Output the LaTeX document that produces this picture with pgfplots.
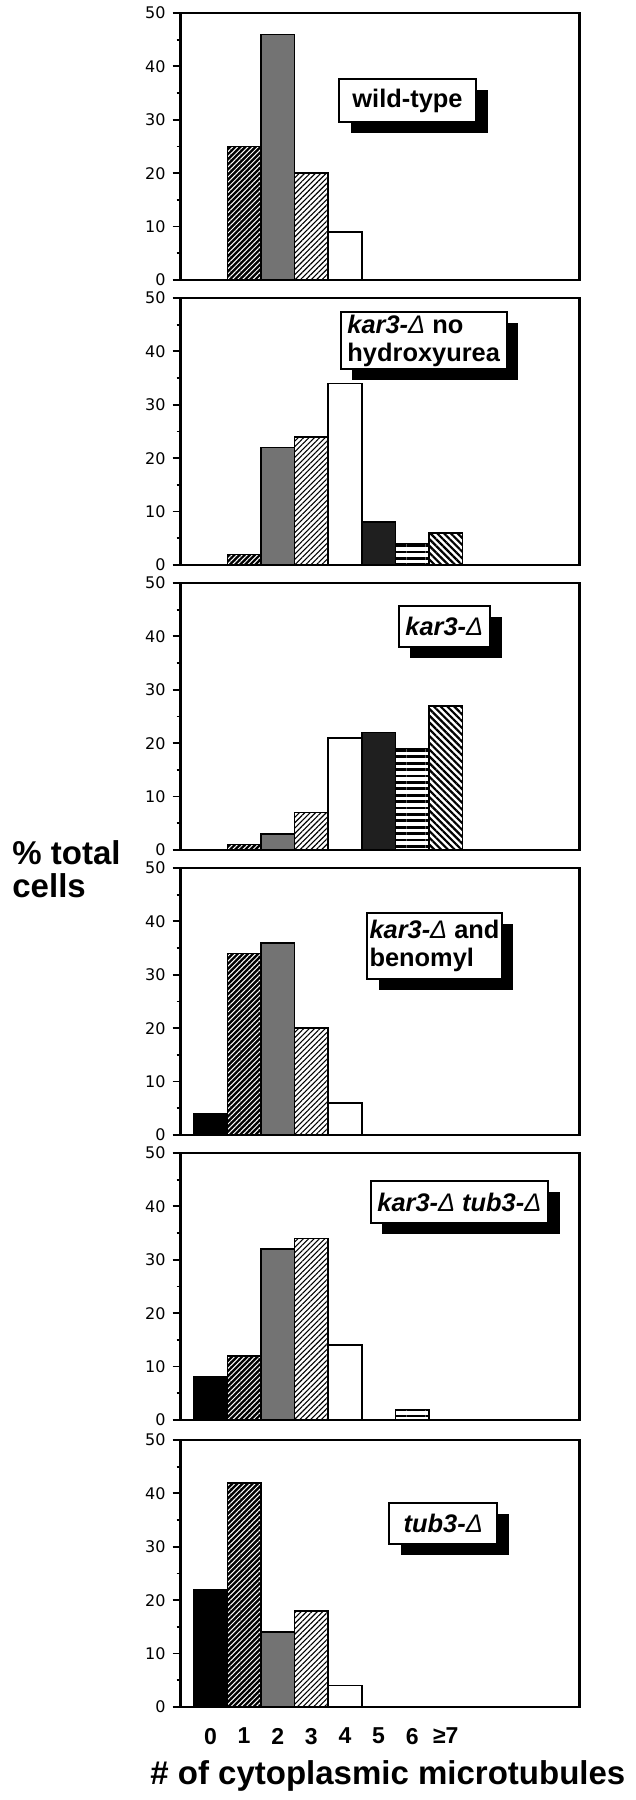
\documentclass[border=0pt]{standalone}
\usepackage{fontspec}
\setmainfont{Liberation Sans}
\newfontfamily\tickfont{DejaVu Sans}
\usepackage{pgfplots}
\pgfplotsset{compat=1.18}
\usepackage{pgfplotstable}
\usetikzlibrary{patterns,patterns.meta}

% % of cells with 0..7 (>=7) cytoplasmic microtubules, one column per strain
\pgfplotstableread{
k wt nohu kar ben kt tub
0 0  0  0  4  8  22
1 25 2  1  34 12 42
2 46 22 3  36 32 14
3 20 24 7  20 34 18
4 9  34 21 6  14 4
5 0  8  22 0  0  0
6 0  4  19 0  2  0
7 0  6  27 0  0  0
}\mtdata

\pgfplotsset{
  c0/.style={fill=black},
  c1/.style={fill=black, postaction={pattern={Lines[angle=45,distance=1.8pt,line width=0.5pt]}, pattern color=white}},
  c2/.style={fill=black!55},
  c3/.style={fill=white, postaction={pattern={Lines[angle=45,distance=1.9pt,line width=0.55pt]}, pattern color=black}},
  c4/.style={fill=white},
  c5/.style={fill=black!88},
  c6/.style={fill=white, postaction={pattern={Lines[angle=0,distance=3.2pt,line width=1.4pt]}, pattern color=black}},
  c7/.style={fill=white, postaction={pattern={Lines[angle=-45,distance=2.4pt,line width=1.1pt]}, pattern color=black}},
  panel/.style={
    scale only axis, width=199.5pt, height=133.5pt, anchor=south west,
    xmin=-0.893, xmax=10.98, ymin=0, ymax=50,
    xtick=\empty,
    ytick={0,10,...,50}, minor y tick num=1, ytick pos=left,
    tick align=outside, major tick length=4pt, minor tick length=2pt,
    tick style={line width=0.9pt, black},
    axis line style={line width=1.1pt},
    axis on top,
    yticklabel style={font=\tickfont\fontsize{8}{8}\selectfont, /pgf/number format/assume math mode=true},
  },
}

\newcommand\bars[1]{%
  \pgfplotsinvokeforeach{0,...,7}{%
    \addplot[ybar, bar width=1, bar shift=0pt, draw=black, line width=0.8pt, c##1,
      x filter/.expression={x==##1 ? x : nan}]
      table[x=k, y=#1]{\mtdata};
  }%
}

\newcommand\Dl{{\mdseries Δ}}
\newcommand\lbox[5]{%
  \fill[black] (#1+11.5,#2+11) rectangle (#3+11.5,#4+11);
  \draw[fill=white, line width=1pt] (#1,#2) rectangle (#3,#4);
  \node[align=left, inner sep=0pt, font=\bfseries\fontsize{12.7}{14}\selectfont]
    at ({(#1+#3)/2},{(#2+#4)/2}) {#5};
}

\begin{document}
\begin{tikzpicture}
\useasboundingbox (0,0) rectangle (318pt,900pt);

\begin{axis}[panel, at={(90.25pt,760pt)}]
\bars{wt}
\end{axis}
\begin{axis}[panel, at={(90.25pt,617.5pt)}]
\bars{nohu}
\end{axis}
\begin{axis}[panel, at={(90.25pt,475pt)}]
\bars{kar}
\end{axis}
\begin{axis}[panel, at={(90.25pt,332.5pt)}]
\bars{ben}
\end{axis}
\begin{axis}[panel, at={(90.25pt,190pt)}]
\bars{kt}
\end{axis}
\begin{axis}[panel, at={(90.25pt,46.5pt)},
  xtick={0,...,7}, xticklabels={0,1,2,3,4,5,6,≥7},
  major x tick style={draw=none},
  xticklabel style={font=\bfseries\fontsize{11.5}{11.5}\selectfont, yshift=-3pt}]
\bars{tub}
\end{axis}

\begin{scope}[x=0.5pt, y=-0.5pt, yshift=900pt]
\lbox{339}{79}{476}{122}{wild-type}
\lbox{340.7}{312.3}{506.7}{369.3}{\textit{kar3-\Dl} no\\hydroxyurea}
\lbox{398.7}{606}{490}{647.3}{\textit{kar3-\Dl}}
\lbox{367.3}{912.7}{501.7}{979.3}{\textit{kar3-\Dl} and\\benomyl}
\lbox{370.7}{1180.7}{548}{1223.3}{\textit{kar3-\Dl\ tub3-\Dl}}
\lbox{389.3}{1502.7}{497.3}{1544.3}{\textit{tub3-\Dl}}
\node[anchor=base west, inner sep=0pt, font=\bfseries\fontsize{16.5}{16.5}\selectfont] at (12,865) {\% total};
\node[anchor=base west, inner sep=0pt, font=\bfseries\fontsize{16.5}{16.5}\selectfont] at (12,898) {cells};
\node[anchor=base west, inner sep=0pt, font=\bfseries\fontsize{16.5}{16.5}\selectfont] at (150,1784) {\# of cytoplasmic microtubules};
\end{scope}
\end{tikzpicture}
\end{document}
